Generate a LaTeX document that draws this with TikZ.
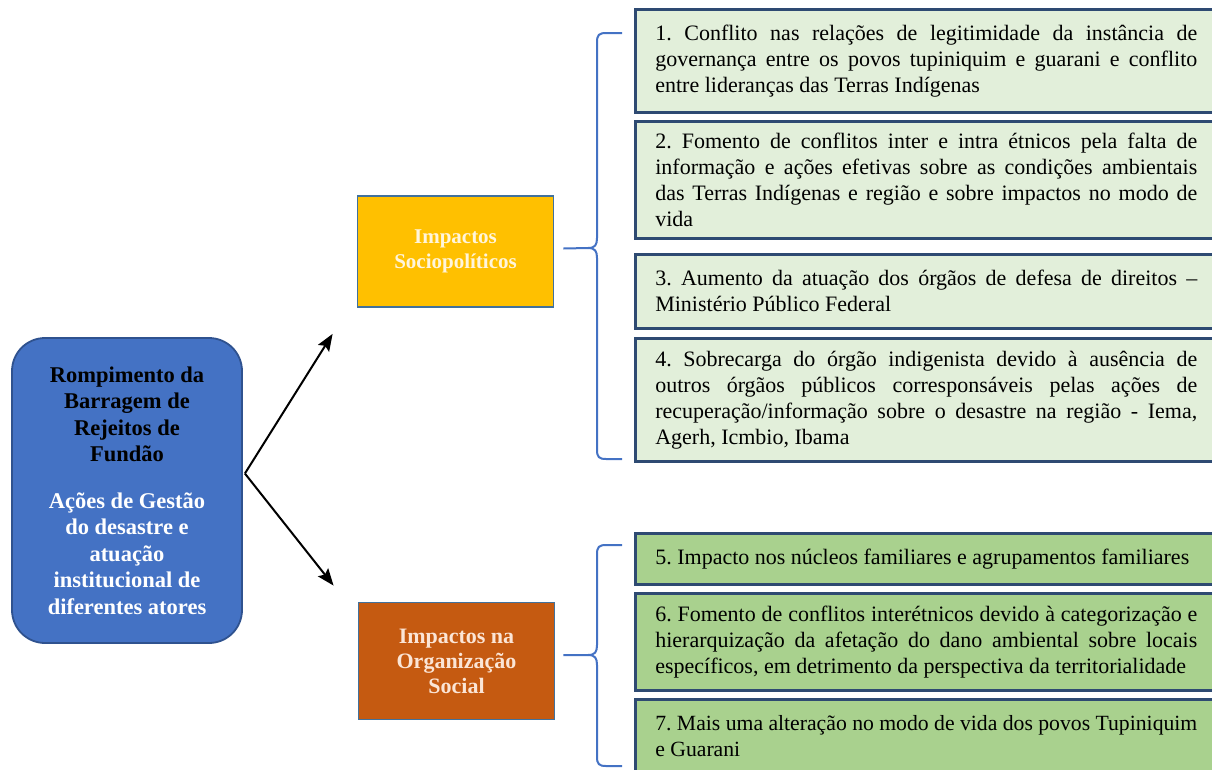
\documentclass[tikz,border=0pt]{standalone}
\usepackage{fontspec}
\setmainfont{Liberation Serif}
\usetikzlibrary{arrows.meta,calc}
\definecolor{mainblue}{HTML}{4472C4}
\definecolor{mainborder}{HTML}{2F528F}
\definecolor{socfill}{HTML}{FFC000}
\definecolor{orgfill}{HTML}{C55A11}
\definecolor{hdborder}{HTML}{41719C}
\definecolor{lightgreen}{HTML}{E2EFDA}
\definecolor{midgreen}{HTML}{A9D18E}
\definecolor{gborder}{HTML}{2E4A72}
\definecolor{bracecol}{HTML}{4472C4}
\definecolor{soctext}{HTML}{FFF5DC}
\definecolor{orgtext}{HTML}{FBE5D6}
\hyphenpenalty=10000
\exhyphenpenalty=10000
\frenchspacing
\begin{document}
\begin{tikzpicture}[x=1pt,y=-1pt,
  mainbox/.style={draw=mainborder, line width=1.8pt, fill=mainblue, rounded corners=33pt,
    minimum width=230pt, minimum height=305pt, align=center, text=black,
    font=\bfseries\fontsize{22.5}{26.5}\selectfont},
  headbox/.style={draw=hdborder, line width=1.8pt, minimum width=196pt, align=center},
  gbox/.style={draw=gborder, line width=2.6pt, anchor=north west, text width=542pt,
    inner xsep=20pt, inner ysep=3pt, align=justify,
    font=\fontsize{22}{26}\selectfont},
  topbox/.style={gbox, fill=lightgreen},
  botbox/.style={gbox, fill=midgreen},
  arr/.style={line width=2pt, -{Stealth[length=17pt,width=13pt,inset=3pt]}},
  bracestyle/.style={draw=bracecol, line width=2pt}
]
\useasboundingbox (0,0) rectangle (1212,769);

% main box
\node[mainbox] (main) at (127,490.5)
  {Rompimento da\\Barragem de\\Rejeitos de\\Fundão\\[20pt]
   \color{white}Ações de Gestão\\\color{white}do desastre e\\\color{white}atuação\\\color{white}institucional de\\\color{white}diferentes atores};

% heading boxes
\node[headbox, fill=socfill, minimum height=111pt, text=soctext,
  font=\bfseries\fontsize{21}{25}\selectfont] (soc) at (455.5,251.5)
  {Impactos\\Sociopolíticos};
\node[headbox, fill=orgfill, minimum height=117pt, text=orgtext,
  font=\bfseries\fontsize{22}{25}\selectfont] (org) at (456.5,661)
  {Impactos na\\Organização\\Social};

% arrows
\coordinate (fork) at ($(main.east)+(2,-17)$);
\coordinate (uptip) at ($(soc.south west)+(-24,26)$);
\coordinate (downtip) at ($(org.north west)+(-24,-16)$);
\draw[arr] (fork) -- (uptip);
\draw[arr] (fork) -- (downtip);

% green boxes, top group
\node[topbox, minimum height=103pt] (b1) at (634,8)
  {1. Conflito nas relações de legitimidade da instância de\linebreak governança entre os povos tupiniquim e guarani e conflito\linebreak entre lideranças das Terras Indígenas};
\node[topbox, minimum height=117pt] (b2) at (634,120)
  {2. Fomento de conflitos inter e intra étnicos pela falta de\linebreak informação e ações efetivas sobre as condições ambientais\linebreak das Terras Indígenas e região e sobre impactos no modo de\linebreak vida};
\node[topbox, minimum height=74pt] (b3) at (634,253)
  {3. Aumento da atuação dos órgãos de defesa de direitos –\linebreak Ministério Público Federal};
\node[topbox, minimum height=123pt] (b4) at (634,337)
  {4. Sobrecarga do órgão indigenista devido à ausência de\linebreak outros órgãos públicos corresponsáveis pelas ações de\linebreak recuperação/informação sobre o desastre na região - Iema,\linebreak Agerh, Icmbio, Ibama};

% green boxes, bottom group
\node[botbox, minimum height=51pt] (b5) at (634,532)
  {5. Impacto nos núcleos familiares e agrupamentos familiares};
\node[botbox, minimum height=97pt] (b6) at (634,592)
  {6. Fomento de conflitos interétnicos devido à categorização e\linebreak hierarquização da afetação do dano ambiental sobre locais\linebreak específicos, em detrimento da perspectiva da territorialidade};
\node[botbox, minimum height=74pt, font=\fontsize{21.7}{26}\selectfont] (b7) at (634,698)
  {7. Mais uma alteração no modo de vida dos povos Tupiniquim\linebreak e Guarani};

% braces
\coordinate (t1) at (622,33);
\coordinate (m1) at ($(soc.east)+(9,-3)$);
\coordinate (e1) at (622,459);
\draw[bracestyle] (t1) -- (606,33) .. controls (599,33) and (597,35) .. (597,42)
  -- (597,238) .. controls (597,245) and (595,248) .. (588,248) -- (m1);
\draw[bracestyle] (e1) -- (606,459) .. controls (599,459) and (597,457) .. (597,450)
  -- (597,258) .. controls (597,251) and (595,248) .. (588,248);

\coordinate (t2) at (622,545);
\coordinate (m2) at ($(org.east)+(8,-6)$);
\coordinate (e2) at (622,766);
\draw[bracestyle] (t2) -- (606,545) .. controls (599,545) and (597,547) .. (597,554)
  -- (597,645) .. controls (597,652) and (595,655) .. (588,655) -- (m2);
\draw[bracestyle] (e2) -- (606,766) .. controls (599,766) and (597,764) .. (597,757)
  -- (597,665) .. controls (597,658) and (595,655) .. (588,655);
\end{tikzpicture}
\end{document}
